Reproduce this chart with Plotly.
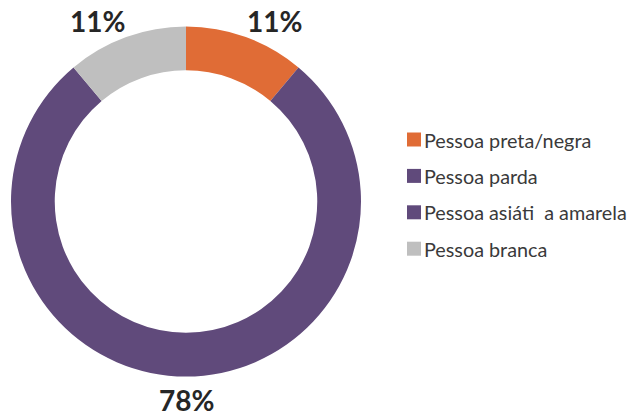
import math
import plotly.graph_objects as go

categories = ["Pessoa preta/negra", "Pessoa parda", "Pessoa asiáti\u00a0 a amarela", "Pessoa branca"]
values = [1, 7, 0, 1]
colors = ["#E06C36", "#604A7B", "#604A7B", "#BFBFBF"]

W, H = 632, 416
cx, cy, R = 186, 201.5, 175
HOLE = 0.75

fig = go.Figure(go.Pie(
    labels=categories, values=values, hole=HOLE, sort=False,
    direction="clockwise", rotation=0,
    marker=dict(colors=colors, line=dict(width=0)),
    textinfo="none", showlegend=False, hoverinfo="label+percent",
    domain=dict(x=[(cx - R) / W, (cx + R) / W], y=[1 - (cy + R) / H, 1 - (cy - R) / H]),
))

annotations = []
shapes = []
total = sum(values)
cum = 0
LBL_RX, LBL_RY, LBL_HALF_H = 172, 185, 10
for v in values:
    if v > 0:
        mid = (cum + v / 2) / total * 2 * math.pi
        pct = round(v / total * 100)
        s, c = math.sin(mid), math.cos(mid)
        px = cx + LBL_RX * s
        py = cy - LBL_RY * c - (LBL_HALF_H if c > 0 else -LBL_HALF_H) + 3.5
        xa = "left" if s > 0.2 else ("right" if s < -0.2 else "center")
        annotations.append(dict(
            x=px / W, y=1 - py / H, xref="paper", yref="paper",
            xanchor=xa, yanchor="middle", text=f"<b>{pct}%</b>", showarrow=False,
            font=dict(family="Lato", size=28, color="#262626"),
        ))
    cum += v

# legend
ly0, lstep = 139.5, 36.4
for i, (name, col) in enumerate(zip(categories, colors)):
    yc = ly0 + i * lstep
    shapes.append(dict(type="rect", xref="paper", yref="paper",
                       x0=407 / W, x1=421 / W, y0=1 - (yc + 7) / H, y1=1 - (yc - 7) / H,
                       fillcolor=col, line=dict(width=0)))
    annotations.append(dict(
        x=422 / W, y=1 - yc / H, xref="paper", yref="paper",
        xanchor="left", yanchor="middle", text=name, showarrow=False,
        font=dict(family="Lato", size=19.8, color="#3A3A3A"),
    ))

fig.update_layout(
    width=W, height=H, margin=dict(l=0, r=0, t=0, b=0),
    paper_bgcolor="white", plot_bgcolor="white",
    annotations=annotations, shapes=shapes, showlegend=False,
)
fig.write_html("out.html")
